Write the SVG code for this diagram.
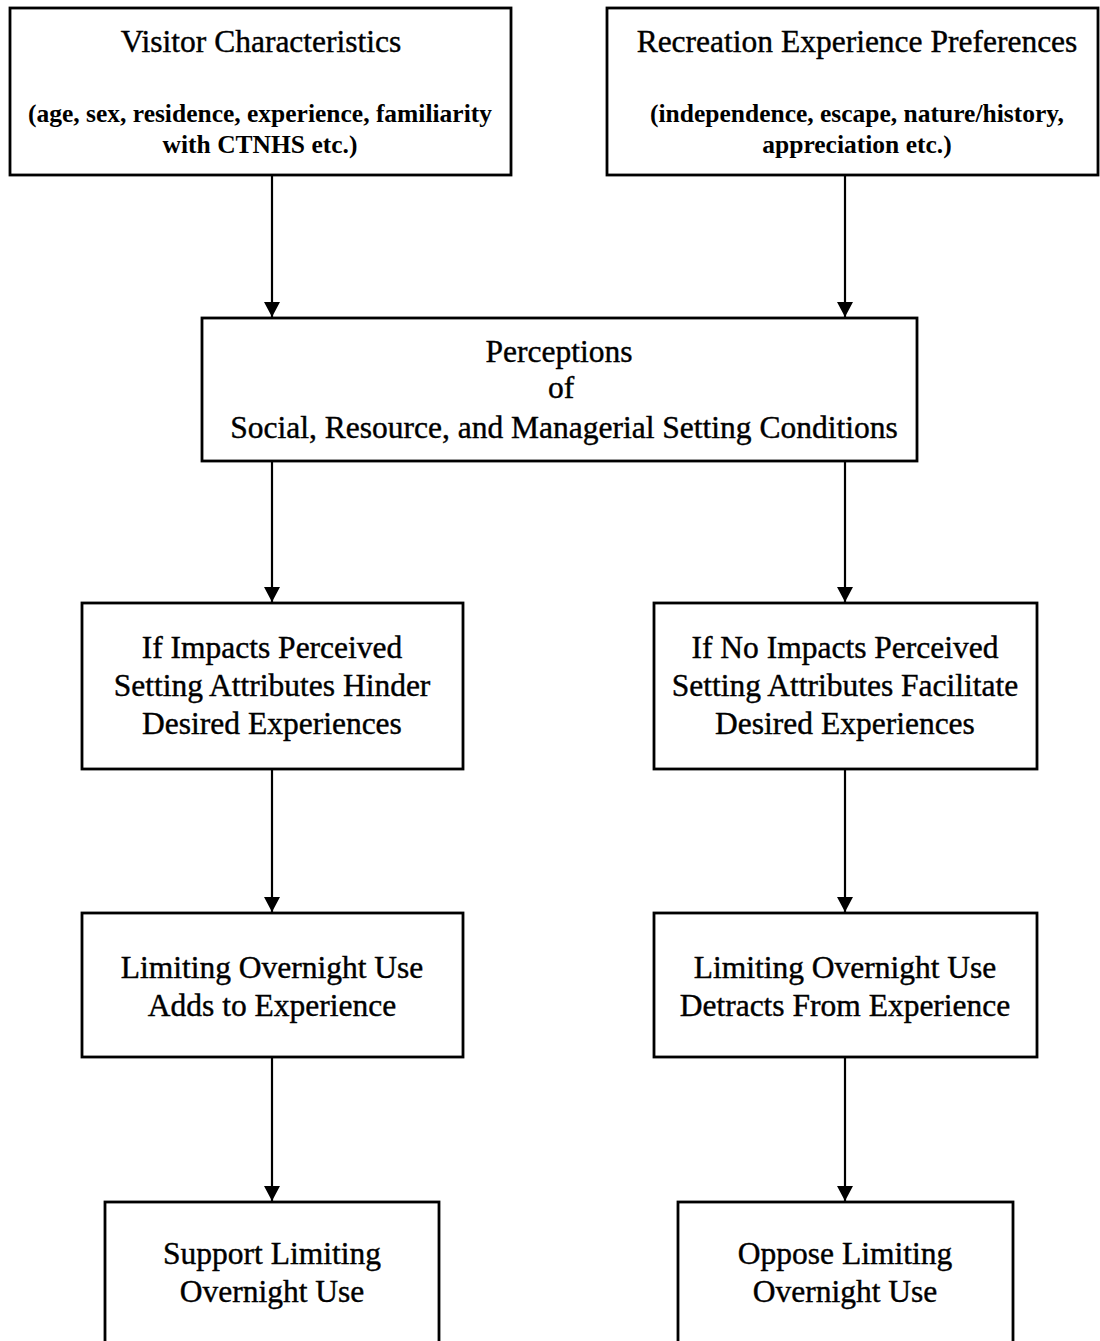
<svg xmlns="http://www.w3.org/2000/svg" width="1100" height="1341" viewBox="0 0 1100 1341">
<style>
  .box { fill: #fff; stroke: #000; stroke-width: 2.8; }
  .t { font-family: "Liberation Serif", "Times New Roman", serif; font-size: 31.5px; fill: #000; stroke: #000; stroke-width: 0.4; text-anchor: middle; }
  .s { font-family: "Liberation Serif", "Times New Roman", serif; font-size: 25.5px; font-weight: bold; fill: #000; text-anchor: middle; }
  .c { stroke: #000; stroke-width: 2.2; fill: none; marker-end: url(#arr); }
</style>
<defs>
  <marker id="arr" markerUnits="userSpaceOnUse" markerWidth="18" markerHeight="18" refX="15" refY="8" orient="auto">
    <path d="M0,0 L15,8 L0,16 Z" fill="#000"/>
  </marker>
</defs>
<rect width="1100" height="1341" fill="#fff"/>
<g id="connectors">
  <line class="c" x1="272" y1="176" x2="272" y2="317"/>
  <line class="c" x1="845" y1="176" x2="845" y2="317"/>
  <line class="c" x1="272" y1="462" x2="272" y2="602"/>
  <line class="c" x1="845" y1="462" x2="845" y2="602"/>
  <line class="c" x1="272" y1="770" x2="272" y2="912"/>
  <line class="c" x1="845" y1="770" x2="845" y2="912"/>
  <line class="c" x1="272" y1="1058" x2="272" y2="1201"/>
  <line class="c" x1="845" y1="1058" x2="845" y2="1201"/>
</g>
<g id="visitor">
  <rect class="box" x="10" y="8" width="501" height="167"/>
  <text class="t" x="261" y="52">Visitor Characteristics</text>
  <text class="s" x="260" y="122">(age, sex, residence, experience, familiarity</text>
  <text class="s" x="260" y="153">with CTNHS etc.)</text>
</g>
<g id="preferences">
  <rect class="box" x="607" y="8" width="491" height="167"/>
  <text class="t" x="857" y="52">Recreation Experience Preferences</text>
  <text class="s" x="857" y="122">(independence, escape, nature/history,</text>
  <text class="s" x="857" y="153">appreciation etc.)</text>
</g>
<g id="perceptions">
  <rect class="box" x="202" y="318" width="715" height="143"/>
  <text class="t" x="559" y="362">Perceptions</text>
  <text class="t" x="561" y="398">of</text>
  <text class="t" x="564" y="438">Social, Resource, and Managerial Setting Conditions</text>
</g>
<g id="hinder">
  <rect class="box" x="82" y="603" width="381" height="166"/>
  <text class="t" x="272" y="658">If Impacts Perceived</text>
  <text class="t" x="272" y="696">Setting Attributes Hinder</text>
  <text class="t" x="272" y="734">Desired Experiences</text>
</g>
<g id="facilitate">
  <rect class="box" x="654" y="603" width="383" height="166"/>
  <text class="t" x="845" y="658">If No Impacts Perceived</text>
  <text class="t" x="845" y="696">Setting Attributes Facilitate</text>
  <text class="t" x="845" y="734">Desired Experiences</text>
</g>
<g id="adds">
  <rect class="box" x="82" y="913" width="381" height="144"/>
  <text class="t" x="272" y="978">Limiting Overnight Use</text>
  <text class="t" x="272" y="1016">Adds to Experience</text>
</g>
<g id="detracts">
  <rect class="box" x="654" y="913" width="383" height="144"/>
  <text class="t" x="845" y="978">Limiting Overnight Use</text>
  <text class="t" x="845" y="1016">Detracts From Experience</text>
</g>
<g id="support">
  <rect class="box" x="105" y="1202" width="334" height="170"/>
  <text class="t" x="272" y="1264">Support Limiting</text>
  <text class="t" x="272" y="1302">Overnight Use</text>
</g>
<g id="oppose">
  <rect class="box" x="678" y="1202" width="335" height="170"/>
  <text class="t" x="845" y="1264">Oppose Limiting</text>
  <text class="t" x="845" y="1302">Overnight Use</text>
</g>
</svg>
